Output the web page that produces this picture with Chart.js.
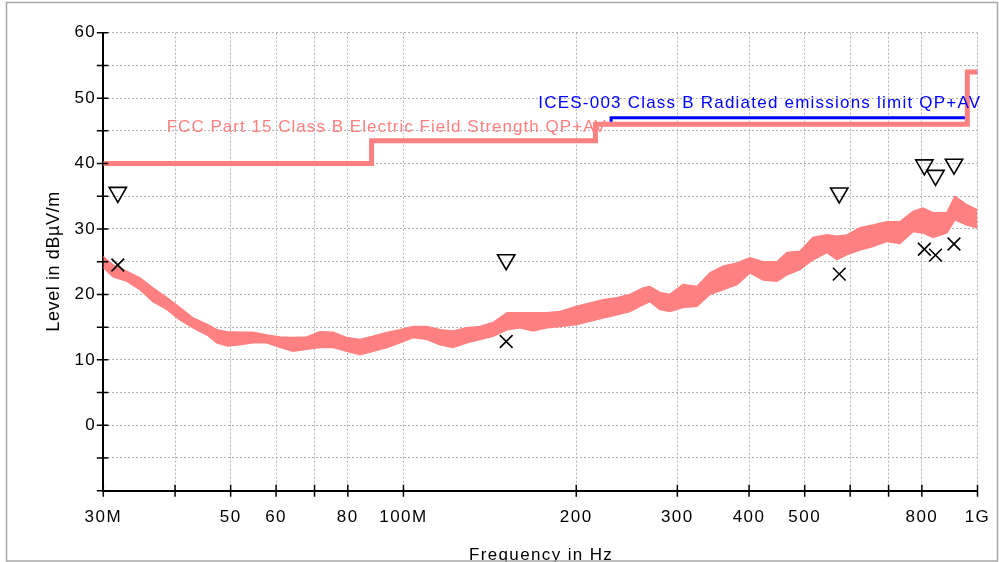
<!DOCTYPE html>
<html><head><meta charset="utf-8">
<script src="https://cdn.jsdelivr.net/npm/chart.js@4"></script>
<style>html,body{margin:0;padding:0;background:#fff;overflow:hidden}canvas{display:block}</style>
</head><body>
<canvas id="c" width="999" height="562" style="width:999px;height:562px"></canvas>
<script>
// ---- data ----
const traceFreq = [30.0,31.2,33.0,34.8,36.6,38.7,40.8,43.0,45.5,47.3,
  49.3,51.9,54.7,57.8,60.9,64.2,67.9,71.5,75.4,79.7,
  84.0,88.5,93.6,98.6,103.9,109.9,115.8,122.0,129.0,135.9,
  143.2,151.5,159.6,168.1,177.8,187.4,200.6,211.3,222.6,235.4,
  248.0,261.3,268.7,279.8,291.2,306.8,324.5,341.9,360.2,381.0,
  401.4,422.9,447.3,465.7,490.6,516.8,546.7,569.0,592.4,624.0,
  657.4,695.4,732.6,771.8,803.3,836.2,884.4,913.3,958.3,1000];
const traceUpper = [25.8,24.5,23.5,22.5,21.0,19.5,18.0,16.4,15.4,14.6,
  14.3,14.2,14.2,13.8,13.5,13.4,13.5,14.3,14.2,13.4,
  13.1,13.6,14.2,14.6,15.1,15.1,14.6,14.4,14.9,15.1,
  15.7,17.2,17.2,17.2,17.2,17.4,18.2,18.7,19.2,19.5,
  20.0,21.0,21.2,20.3,20.0,21.5,21.2,23.3,24.3,24.8,
  25.6,25.0,25.0,26.4,26.6,28.7,29.1,28.9,29.1,30.2,
  30.6,31.1,31.1,32.7,33.2,32.5,32.5,35.0,33.7,32.9];
const traceLower = [24.1,22.7,22.0,20.7,18.9,17.7,16.1,14.9,13.8,12.6,
  12.1,12.3,12.6,12.6,11.9,11.3,11.6,11.9,11.9,11.3,
  10.8,11.3,11.9,12.6,13.4,13.1,12.3,11.9,12.6,13.1,
  13.6,14.6,14.9,14.4,14.9,15.1,15.4,15.9,16.4,16.9,
  17.4,18.4,18.9,17.7,17.4,18.0,18.2,20.0,20.7,21.5,
  23.3,22.2,22.0,23.0,23.8,25.3,26.4,25.3,26.1,26.8,
  27.3,28.1,27.8,29.6,29.4,28.7,29.4,31.4,30.6,30.2];
const fccFreq = [30,88,216,960,1000];
const fccLimit = [40,43.5,46,54,54];
const icesFreq = [30,88,216,230,960,1000];
const icesLimit = [40,43.5,46,47,54,54];
const markerFreq = [31.8,151.0,574.4,808,845,910];
const qpValues = [35.6,25.3,35.5,39.8,38.2,39.9];
const avValues = [24.5,12.8,23.1,26.9,26.0,27.7];
const xTickValues = [30,40,50,60,70,80,100,200,300,400,500,600,700,800,1000];
const xTickLabels = ['30M','','50','60','','80','100M','200','300','400','500','','','800','1G'];
const yTickValues = [-10,-5,0,5,10,15,20,25,30,35,40,45,50,55,60];
const yTickLabels = ['','','0','','10','','20','','30','','40','','50','','60'];
const fccLabel = 'FCC Part 15 Class B Electric Field Strength QP+AV';
const icesLabel = 'ICES-003 Class B Radiated emissions limit QP+AV';
const xTitle = 'Frequency in Hz';
const yTitle = 'Level in dBµV/m';

const pts = (xs, ys) => xs.map((x, i) => ({x: x, y: ys[i]}));
const SALMON = '#ff8080', BLUE = '#0000ff', GRID = '#b4b4b4';
const FONT = '"Liberation Sans", Arial, Helvetica, sans-serif';

function spaced(ctx, text, x, y, size, color, targetW) {
  ctx.font = size + 'px ' + FONT;
  ctx.letterSpacing = '0px';
  const w = ctx.measureText(text).width;
  const ls = (targetW - w) / (text.length - 1);
  ctx.letterSpacing = ls.toFixed(2) + 'px';
  ctx.fillStyle = color;
  ctx.textAlign = 'left';
  ctx.textBaseline = 'alphabetic';
  ctx.fillText(text, x, y);
  ctx.letterSpacing = '0px';
}

const deco = {
  id: 'deco',
  beforeDraw(chart) {
    const ctx = chart.ctx;
    ctx.save(); ctx.fillStyle = '#fff'; ctx.fillRect(0, 0, chart.width, chart.height); ctx.restore();
    ctx.letterSpacing = '1.5px';
  },
  afterDraw(chart) {
    const ctx = chart.ctx, xs = chart.scales.x, ys = chart.scales.y;
    ctx.save();
    ctx.letterSpacing = '0px';
    ctx.strokeStyle = '#000'; ctx.lineWidth = 1.5;
    ctx.beginPath();
    xTickValues.forEach(v => {
      const p = xs.getPixelForValue(v);
      ctx.moveTo(p, ys.bottom - 6); ctx.lineTo(p, ys.bottom + 6);
    });
    yTickValues.forEach(v => {
      const p = ys.getPixelForValue(v);
      ctx.moveTo(xs.left - 6.5, p); ctx.lineTo(xs.left + 5, p);
    });
    ctx.stroke();
    // limit labels
    spaced(ctx, fccLabel, 166.7, 131.5, 17, SALMON, 439);
    spaced(ctx, icesLabel, 538.3, 108.3, 17, BLUE, 441.7);
    // axis titles
    const cx = (xs.left + xs.right) / 2;
    spaced(ctx, xTitle, cx - 71.5, 560, 17, '#000', 143);
    ctx.save();
    ctx.translate(58.5, (ys.top + ys.bottom) / 2 + 70);
    ctx.rotate(-Math.PI / 2);
    spaced(ctx, yTitle, 0, 0, 18, '#000', 140);
    ctx.restore();
    // outer frame
    ctx.strokeStyle = '#a8a8a8'; ctx.lineWidth = 1.5;
    ctx.strokeRect(6.5, 2.5, 991, 558.5);
    ctx.restore();
  }
};

new Chart(document.getElementById('c'), {
  type: 'scatter',
  data: {
    datasets: [
      { label: 'QP', data: pts(markerFreq, qpValues), order: 0, pointStyle: 'triangle', rotation: 180,
        pointRadius: 10, borderColor: '#000', borderWidth: 1.6, backgroundColor: 'rgba(0,0,0,0)', showLine: false },
      { label: 'AV', data: pts(markerFreq, avValues), order: 1, pointStyle: 'crossRot',
        pointRadius: 9, borderColor: '#000', borderWidth: 1.6, backgroundColor: 'rgba(0,0,0,0)', showLine: false },
      { label: 'FCC', data: pts(fccFreq, fccLimit), order: 2, showLine: true, stepped: true,
        borderColor: SALMON, borderWidth: 5, pointRadius: 0, fill: false },
      { label: 'ICES', data: pts(icesFreq, icesLimit), order: 3, showLine: true, stepped: true,
        borderColor: BLUE, borderWidth: 3, pointRadius: 0, fill: false },
      { label: 'Upper', data: pts(traceFreq, traceUpper), order: 4, showLine: true,
        borderColor: SALMON, borderWidth: 1.5, pointRadius: 0, fill: '+1', backgroundColor: SALMON },
      { label: 'Lower', data: pts(traceFreq, traceLower), order: 5, showLine: true,
        borderColor: SALMON, borderWidth: 1.5, pointRadius: 0, fill: false }
    ]
  },
  options: {
    responsive: false, animation: false, devicePixelRatio: 1,
    layout: { padding: { left: 0, top: 32.7, right: 21.5, bottom: 0 } },
    plugins: { legend: { display: false }, tooltip: { enabled: false }, title: { display: false } },
    elements: { line: { tension: 0 } },
    scales: {
      x: {
        type: 'logarithmic', min: 30, max: 1000,
        afterBuildTicks: s => { s.ticks = xTickValues.map(v => ({ value: v })); },
        afterFit: s => { s.height = 71.3; s.paddingLeft = 0; s.paddingRight = 0; s.paddingTop = 0; s.paddingBottom = 0; },
        ticks: {
          autoSkip: false, maxRotation: 0, minRotation: 0, padding: 16, color: '#000',
          font: { family: FONT, size: 17 },
          callback: (v) => { const i = xTickValues.indexOf(v); return i >= 0 ? xTickLabels[i] : ''; }
        },
        grid: { color: GRID, lineWidth: 1, drawTicks: false },
        border: { display: true, color: '#000', width: 2, dash: [2, 2] }
      },
      y: {
        type: 'linear', min: -10, max: 60,
        afterBuildTicks: s => { s.ticks = yTickValues.map(v => ({ value: v })); },
        afterFit: s => { s.width = 103.3; s.paddingLeft = 0; s.paddingRight = 0; s.paddingTop = 0; s.paddingBottom = 0; },
        ticks: {
          autoSkip: false, padding: 7, color: '#000',
          font: { family: FONT, size: 17 },
          callback: (v) => { const i = yTickValues.indexOf(v); return i >= 0 ? yTickLabels[i] : ''; }
        },
        grid: { color: GRID, lineWidth: 1, drawTicks: false },
        border: { display: true, color: '#000', width: 2, dash: [2, 2] }
      }
    }
  },
  plugins: [deco]
});
</script>
</body></html>
